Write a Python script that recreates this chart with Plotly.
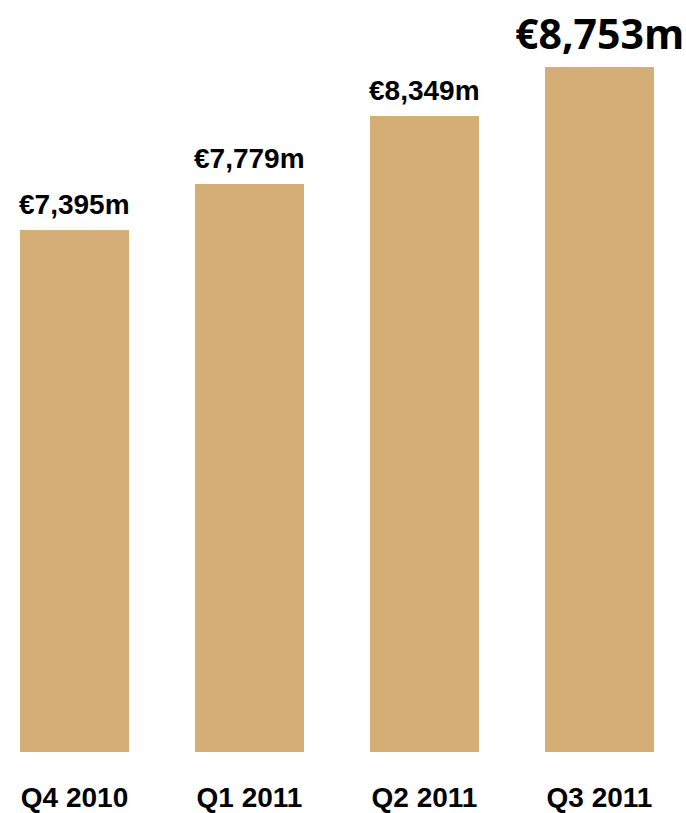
import plotly.graph_objects as go

categories = ["Q4 2010", "Q1 2011", "Q2 2011", "Q3 2011"]
values = [7395, 7779, 8349, 8753]
labels = ["€7,395m", "€7,779m", "€8,349m", "€8,753m"]

bar_color = "#D5AE77"

fig = go.Figure()
fig.add_trace(go.Bar(
    x=list(range(len(categories))),
    y=values,
    marker=dict(color=bar_color, line=dict(width=0)),
    width=0.623,
    hoverinfo="skip",
))

for i, (v, lab) in enumerate(zip(values, labels)):
    last = i == len(values) - 1
    fig.add_annotation(
        x=i, y=v, text=f"<b>{lab}</b>", showarrow=False,
        yanchor="bottom", yshift=4 if last else 8,
        font=dict(family="Open Sans" if last else "Liberation Sans, Arial",
                  size=41 if last else 28, color="#000000"),
    )

fig.update_layout(
    width=686, height=813,
    margin=dict(l=0, r=0, t=0, b=61),
    paper_bgcolor="white", plot_bgcolor="white",
    showlegend=False,
    bargap=0,
    xaxis=dict(
        range=[-74.5 / 175, (686 - 74.5) / 175],
        tickmode="array", tickvals=list(range(len(categories))),
        ticktext=[f"<b>{c}</b>" for c in categories],
        tickfont=dict(family="Liberation Sans, Arial", size=28, color="#000000"),
        ticks="outside", ticklen=20, tickcolor="rgba(0,0,0,0)",
        showgrid=False, zeroline=False, showline=False,
    ),
    yaxis=dict(
        range=[3045, 3045 + 752 / 0.12],
        visible=False, showgrid=False, zeroline=False,
    ),
)

fig.write_html("out.html")
